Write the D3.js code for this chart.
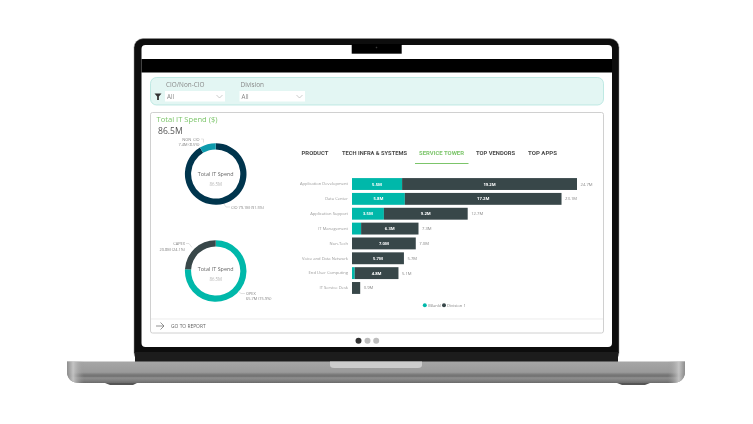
<!DOCTYPE html>
<html><head><meta charset="utf-8">
<script src="https://cdn.jsdelivr.net/npm/d3@7"></script>
<style>html,body{margin:0;padding:0;background:#fff;overflow:hidden}svg{display:block}text{font-family:"Open Sans",sans-serif}</style>
</head><body><svg id="c" width="753" height="424"></svg>
<script>
const towers = ["Application Development","Data Center","Application Support","IT Management","Non-Tech","Voice and Data Network","End User Computing","IT Service Desk"];
const blankValues = [5.5,5.8,3.5,1.0,0,0,0.3,0];
const divisionValues = [19.2,17.2,9.2,6.3,7.0,5.7,4.8,0.9];
const blankLabels = ["5.5M","5.8M","3.5M","","","","",""];
const divisionLabels = ["19.2M","17.2M","9.2M","6.3M","7.0M","5.7M","4.8M",""];
const totalLabels = ["24.7M","23.1M","12.7M","7.3M","7.0M","5.7M","5.1M","0.9M"];
const cioNames = ["CIO","NON_CIO"];
const cioValues = [79.1,7.4];
const expenseNames = ["OPEX","CAPEX"];
const expenseValues = [65.7,20.8];
const tabs = ["PRODUCT","TECH INFRA & SYSTEMS","SERVICE TOWER","TOP VENDORS","TOP APPS"];
const tabStarts = [301.5,342,419,476,528];
const tabWidths = [27,65,45,39,29];

const svg = d3.select("#c");
const defs = svg.append("defs");
const g1 = defs.append("linearGradient").attr("id","base").attr("x1",0).attr("x2",0).attr("y1",0).attr("y2",1);
[[0,"#a6a6a6"],[.5,"#9a9a9a"],[.6,"#7c7c7c"],[.68,"#6f6f6f"],[.76,"#8e8e8e"],[.9,"#7d7d7d"],[1,"#6a6a6a"]].forEach(d=>g1.append("stop").attr("offset",d[0]).attr("stop-color",d[1]));
const g2 = defs.append("linearGradient").attr("id","edge").attr("x1",0).attr("x2",1);
[[0,"#8a8a8a",.9],[.01,"#c8c8c8",.9],[.028,"#999",0],[.972,"#999",0],[.99,"#c8c8c8",.9],[1,"#8a8a8a",.9]].forEach(d=>g2.append("stop").attr("offset",d[0]).attr("stop-color",d[1]).attr("stop-opacity",d[2]));
defs.append("filter").attr("id","soft").append("feGaussianBlur").attr("stdDeviation",0.28);
const root = svg.append("g").attr("filter","url(#soft)");

// laptop
root.append("rect").attr("x",134).attr("y",38.6).attr("width",485).attr("height",323).attr("rx",9).attr("fill","#0a0a0a").attr("stroke","#999").attr("stroke-width",.5);
root.append("rect").attr("x",135).attr("y",352).attr("width",483).attr("height",10).attr("fill","#1e1e1e");
root.append("rect").attr("x",141.5).attr("y",45).attr("width",470.5).attr("height",302).attr("rx",4).attr("fill","#fff");
root.append("rect").attr("x",351.7).attr("y",44).attr("width",50).attr("height",9.7).attr("fill","#050505");
root.append("circle").attr("cx",376.5).attr("cy",47.5).attr("r",.8).attr("fill","#3a3a3a");
root.append("rect").attr("x",141.5).attr("y",59).attr("width",470.5).attr("height",13.5).attr("fill","#000");
const basePath = "M67,361.5H685V371Q685,383 672,383H80Q67,383 67,371Z";
root.append("path").attr("d",basePath).attr("fill","url(#base)");
root.append("path").attr("d",basePath).attr("fill","url(#edge)");
root.append("path").attr("d","M330,361.5H422V365Q422,368 418,368H334Q330,368 330,365Z").attr("fill","#cdcdcd");
root.append("path").attr("d","M105,383H137L133,385H110Z M617,383H650L645,385H622Z").attr("fill","#555");

// filter panel
root.append("rect").attr("x",150.5).attr("y",77.5).attr("width",453).attr("height",27.5).attr("rx",6).attr("fill","#e3f6f3").attr("stroke","#a9e1da").attr("stroke-width",.7);
root.append("path").attr("d","M154.5,93.5h7l-2.6,3v3.5h-1.8v-3.5z").attr("fill","#333");
[[165,60,166,"CIO/Non-CIO"],[239.5,65.5,240.5,"Division"]].forEach(([x,w,tx,t])=>{
  root.append("text").attr("x",tx).attr("y",86.5).attr("font-size",6.4).attr("fill","#888").text(t);
  root.append("rect").attr("x",x).attr("y",91).attr("width",w).attr("height",10.5).attr("fill","#fff");
  root.append("text").attr("x",x+2).attr("y",98.6).attr("font-size",6.2).attr("fill","#888").text("All");
  root.append("path").attr("d",`M${x+w-8.5},95l3,3l3,-3`).attr("fill","none").attr("stroke","#aaa").attr("stroke-width",.6);
});

// card
root.append("rect").attr("x",150.5).attr("y",112.5).attr("width",453).attr("height",220.5).attr("rx",2).attr("fill","#fff").attr("stroke","#c4c4c4").attr("stroke-width",.8);
root.append("line").attr("x1",151).attr("x2",603).attr("y1",319).attr("y2",319).attr("stroke","#e4e4e4").attr("stroke-width",.7);
root.append("text").attr("x",156.5).attr("y",121.5).attr("font-size",7.6).attr("fill","#7cc56a").text("Total IT Spend ($)");
root.append("text").attr("x",158).attr("y",133.5).attr("font-size",8.6).attr("fill","#555").text("86.5M");
root.append("path").attr("d","M156,326H164M160.5,322.5L164,326L160.5,329.5").attr("fill","none").attr("stroke","#666").attr("stroke-width",.7);
root.append("text").attr("x",171).attr("y",327.8).attr("font-size",4.9).attr("fill","#666").text("GO TO REPORT");

// donuts
function donut(cy, values, colors, dy){
  const arc = d3.arc().innerRadius(24.6).outerRadius(30.8);
  const pie = d3.pie().sort(null);
  const g = root.append("g").attr("transform",`translate(215.7,${cy})`);
  g.selectAll("path").data(pie(values)).join("path").attr("d",arc).attr("fill",(d,i)=>colors[i]);
  g.append("text").attr("text-anchor","middle").attr("y",dy).attr("font-size",5.4).attr("fill","#666").text("Total IT Spend");
  g.append("text").attr("text-anchor","middle").attr("y",dy+9.5).attr("font-size",4.4).attr("fill","#b5b5b5").text("86.5M");
}
donut(174,cioValues,["#01344e","#0c9bad"],2);
donut(271,expenseValues,["#01b8aa","#374649"],0);
const note=(x,y,t,a="start")=>root.append("text").attr("x",x).attr("y",y).attr("font-size",3.9).attr("text-anchor",a).attr("fill","#808080").text(t);
note(199.5,140.5,cioNames[1],"end"); note(199.5,145.5,`${cioValues[1]}M (8.5%)`,"end");
note(231,208.5,`${cioNames[0]} ${cioValues[0]}M (91.5%)`);
note(185,245,expenseNames[1],"end"); note(185,250.5,`${expenseValues[1]}M (24.1%)`,"end");
note(246,294.5,expenseNames[0]); note(246,299.5,`${expenseValues[0]}M (75.9%)`);
[[201,139,203.5,139,203.5,142.5],[224,204,226,207,230,207],[186,243.5,189,243.5,192,247.5],[238,291,241,293.5,245,293.5]].forEach(p=>
  root.append("polyline").attr("points",p.join(",")).attr("fill","none").attr("stroke","#c4c4c4").attr("stroke-width",.5));

// tabs
tabs.forEach((t,i)=>{
  root.append("text").attr("x",tabStarts[i]).attr("y",155).style("font-family","Roboto").attr("font-weight",700)
    .attr("font-size",6.2).attr("textLength",tabWidths[i]).attr("lengthAdjust","spacingAndGlyphs").attr("fill",i==2?"#7cc56a":"#4a4a4a").text(t);
});
root.append("rect").attr("x",415).attr("y",163).attr("width",53.5).attr("height",1).attr("fill","#7cc56a");

// bars
const x = d3.scaleLinear().domain([0,24.7]).range([352,577]);
const y = d3.scaleBand().domain(towers).range([176.6,295.4]).paddingInner(.2).paddingOuter(.1);
const axis = root.append("g").attr("transform","translate(350,0)").call(d3.axisLeft(y).tickSize(0).tickPadding(2));
axis.select(".domain").remove();
axis.selectAll("text").attr("font-size",4.1).attr("fill","#999").style("font-family","'Open Sans',sans-serif");
const rows = root.append("g");
rows.selectAll(".a").data(towers).join("rect").attr("class","a").attr("x",x(0)).attr("y",d=>y(d))
  .attr("height",y.bandwidth()).attr("width",(d,i)=>x(blankValues[i])-x(0)).attr("fill","#01b8aa");
rows.selectAll(".b").data(towers).join("rect").attr("class","b").attr("x",(d,i)=>x(blankValues[i])).attr("y",d=>y(d))
  .attr("height",y.bandwidth()).attr("width",(d,i)=>x(blankValues[i]+divisionValues[i])-x(blankValues[i])).attr("fill","#374649");
const lab=(v0,v,t)=>rows.selectAll(null).data(towers).join("text")
  .attr("x",(d,i)=>x(v0(i)+v(i)/2)).attr("y",d=>y(d)+y.bandwidth()/2+1.5).attr("text-anchor","middle")
  .attr("font-size",4.2).attr("font-weight",700).attr("fill","#fff").text((d,i)=>t[i]);
lab(i=>0,i=>blankValues[i],blankLabels);
lab(i=>blankValues[i],i=>divisionValues[i],divisionLabels);
rows.selectAll(".t").data(towers).join("text").attr("class","t").attr("x",(d,i)=>x(blankValues[i]+divisionValues[i])+3.5)
  .attr("y",d=>y(d)+y.bandwidth()/2+1.5).attr("font-size",4.2).attr("fill","#888").text((d,i)=>totalLabels[i]);

// legend
[[424.8,"#01b8aa",428,"(Blank)"],[444,"#374649",447,"Division 1"]].forEach(([cx,c,tx,t])=>{
  root.append("circle").attr("cx",cx).attr("cy",305.3).attr("r",2).attr("fill",c);
  root.append("text").attr("x",tx).attr("y",306.8).attr("font-size",4.2).attr("fill","#888").text(t);
});
// pager
[[358.5,"#333"],[367.5,"#bdbdbd"],[376.2,"#bdbdbd"]].forEach(([cx,c])=>root.append("circle").attr("cx",cx).attr("cy",340.7).attr("r",3).attr("fill",c));
</script></body></html>
